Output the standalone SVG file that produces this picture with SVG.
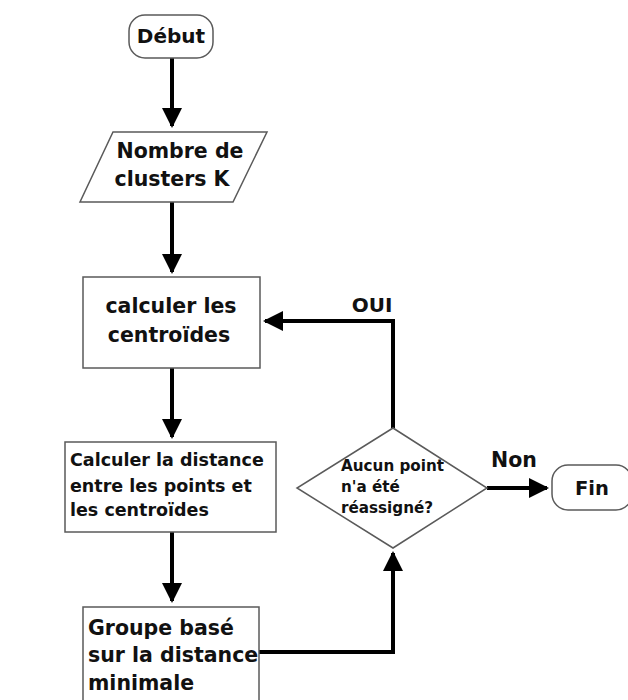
<svg xmlns="http://www.w3.org/2000/svg" width="628" height="700" viewBox="0 0 628 700">
  <style>
    .box { fill: #ffffff; stroke: #5a5a5a; stroke-width: 1.5; }
    .lbl { font-family: "DejaVu Sans", "Open Sans", sans-serif; font-weight: bold; fill: #111111; }
    .wire { fill: none; stroke: #000000; stroke-width: 4; }
  </style>
  <defs>
    <marker id="head" viewBox="0 0 10 10" refX="9" refY="5" markerWidth="5" markerHeight="5" markerUnits="strokeWidth" orient="auto">
      <path d="M0,0 L10,5 L0,10 Z" fill="#000000"/>
    </marker>
  </defs>

  <rect width="628" height="700" fill="#ffffff"/>

  <!-- connectors -->
  <g id="connectors">
    <line class="wire" x1="172" y1="58" x2="172" y2="126" marker-end="url(#head)"/>
    <line class="wire" x1="172" y1="202" x2="172" y2="272" marker-end="url(#head)"/>
    <line class="wire" x1="172" y1="368" x2="172" y2="437" marker-end="url(#head)"/>
    <line class="wire" x1="172" y1="532" x2="172" y2="601" marker-end="url(#head)"/>
    <polyline class="wire" points="259,652 393,652 393,553" marker-end="url(#head)"/>
    <polyline class="wire" points="393,428 393,321 265,321" marker-end="url(#head)"/>
    <line class="wire" x1="487" y1="488" x2="547" y2="488" marker-end="url(#head)"/>
    <text class="lbl" x="372" y="312" font-size="20" text-anchor="middle">OUI</text>
    <text class="lbl" x="514" y="467" font-size="20.5" text-anchor="middle">Non</text>
  </g>

  <g id="debut">
    <rect class="box" x="129" y="15" width="84" height="43" rx="16"/>
    <text class="lbl" x="171" y="43" font-size="20" text-anchor="middle">Début</text>
  </g>

  <g id="nombre-clusters">
    <polygon class="box" points="113,132 267,132 233,202 80,202"/>
    <text class="lbl" x="180" y="158" font-size="20.5" text-anchor="middle">Nombre de</text>
    <text class="lbl" x="172" y="186" font-size="20.5" text-anchor="middle">clusters K</text>
  </g>

  <g id="calculer-centroides">
    <rect class="box" x="83" y="277" width="177" height="91"/>
    <text class="lbl" x="171" y="313" font-size="20.5" text-anchor="middle">calculer les</text>
    <text class="lbl" x="169" y="342" font-size="20.5" text-anchor="middle">centroïdes</text>
  </g>

  <g id="calculer-distance">
    <rect class="box" x="65" y="442" width="211" height="90"/>
    <text class="lbl" x="70" y="466" font-size="17.5">Calculer la distance</text>
    <text class="lbl" x="70" y="492" font-size="17.5">entre les points et</text>
    <text class="lbl" x="70" y="516" font-size="17.5">les centroïdes</text>
  </g>

  <g id="groupe">
    <rect class="box" x="83" y="607" width="176" height="96"/>
    <text class="lbl" x="88" y="635" font-size="20.5">Groupe basé</text>
    <text class="lbl" x="88" y="662" font-size="20.5">sur la distance</text>
    <text class="lbl" x="88" y="690" font-size="20.5">minimale</text>
  </g>

  <g id="decision">
    <polygon class="box" points="393,428 487,488 393,548 297,488"/>
    <text class="lbl" x="341" y="471" font-size="15.2">Aucun point</text>
    <text class="lbl" x="341" y="492" font-size="15.2">n'a été</text>
    <text class="lbl" x="341" y="513" font-size="15.2">réassigné?</text>
  </g>

  <g id="fin">
    <rect class="box" x="552" y="465" width="80" height="45" rx="16"/>
    <text class="lbl" x="592" y="495" font-size="19.5" text-anchor="middle">Fin</text>
  </g>
</svg>
